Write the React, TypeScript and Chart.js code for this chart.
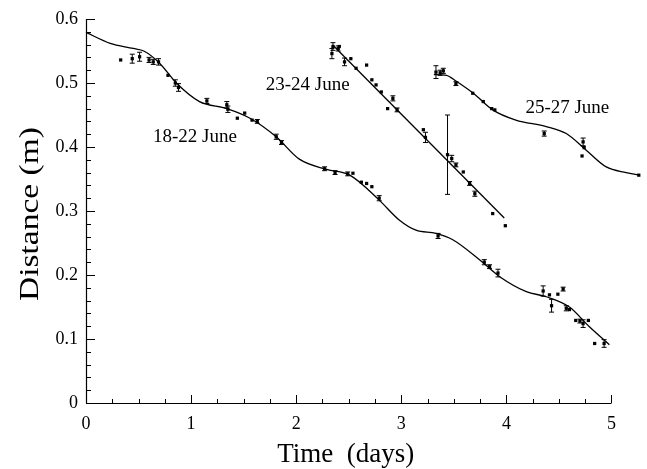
import { useEffect, useRef } from 'react';
import { Chart, registerables } from 'chart.js';

Chart.register(...registerables);

const FONT = '"Liberation Serif", "Times New Roman", serif';

// ---- 18-22 June: observations ----
const obs1X = [0.33, 0.44, 0.51, 0.60, 0.64, 0.69, 0.78, 0.85, 0.88, 1.15, 1.34, 1.35, 1.44, 1.51, 1.58, 1.63, 1.81, 1.86, 2.27, 2.37, 2.49, 2.54, 2.62, 2.67, 2.72, 2.79, 3.35, 3.79, 3.84, 3.92, 4.35, 4.41, 4.43, 4.49, 4.54, 4.57, 4.60, 4.66, 4.70, 4.73, 4.78, 4.84, 4.93];
const obs1Y = [0.536, 0.538, 0.541, 0.536, 0.533, 0.533, 0.512, 0.500, 0.493, 0.472, 0.466, 0.459, 0.445, 0.453, 0.442, 0.440, 0.416, 0.407, 0.366, 0.360, 0.358, 0.359, 0.345, 0.343, 0.338, 0.320, 0.261, 0.220, 0.213, 0.203, 0.175, 0.169, 0.152, 0.170, 0.178, 0.148, 0.146, 0.129, 0.128, 0.124, 0.129, 0.093, 0.093];
const obs1Err = [0, 0.007, 0.007, 0.004, 0.004, 0.005, 0, 0.005, 0.006, 0.004, 0.005, 0.005, 0, 0, 0, 0.003, 0.004, 0.003, 0.003, 0.003, 0.003, 0, 0, 0, 0, 0.004, 0.004, 0.004, 0.003, 0.006, 0.008, 0, 0.010, 0, 0.003, 0.004, 0, 0, 0.003, 0.006, 0, 0, 0.006];

// ---- 23-24 June: observations ----
const obs2X = [2.34, 2.35, 2.40, 2.41, 2.46, 2.52, 2.57, 2.67, 2.72, 2.76, 2.81, 2.87, 2.92, 2.96, 3.21, 3.23, 3.44, 3.48, 3.52, 3.59, 3.65, 3.70, 3.87, 3.99];
const obs2Y = [0.546, 0.557, 0.554, 0.557, 0.533, 0.538, 0.523, 0.528, 0.505, 0.497, 0.486, 0.460, 0.476, 0.458, 0.427, 0.415, 0.388, 0.382, 0.372, 0.361, 0.343, 0.327, 0.296, 0.277];
const obs2Err = [0.008, 0.006, 0.004, 0, 0.006, 0, 0, 0, 0, 0, 0, 0, 0.004, 0.003, 0, 0.008, 0.062, 0.005, 0.003, 0, 0.003, 0.004, 0, 0];

// ---- 25-27 June: observations ----
const obs3X = [3.33, 3.37, 3.40, 3.52, 3.68, 3.78, 3.86, 3.89, 4.36, 4.72, 4.73, 4.74, 5.26];
const obs3Y = [0.517, 0.516, 0.519, 0.499, 0.484, 0.471, 0.460, 0.458, 0.421, 0.386, 0.408, 0.399, 0.356];
const obs3Err = [0.010, 0.004, 0.004, 0.003, 0, 0, 0, 0, 0.004, 0, 0.006, 0, 0];

// ---- fitted curves ----
const fit1X = [0, 0.23, 0.45, 0.55, 0.70, 0.86, 1.08, 1.34, 1.56, 1.81, 2.03, 2.29, 2.51, 2.79, 2.98, 3.14, 3.33, 3.49, 3.75, 3.94, 4.19, 4.38, 4.60, 4.79, 4.98];
const fit1Y = [0.579, 0.562, 0.554, 0.550, 0.531, 0.500, 0.471, 0.460, 0.445, 0.416, 0.381, 0.365, 0.356, 0.317, 0.286, 0.270, 0.265, 0.255, 0.223, 0.197, 0.174, 0.166, 0.150, 0.119, 0.091];
const fit2X = [2.35, 3.98];
const fit2Y = [0.559, 0.289];
const fit3X = [3.31, 3.43, 3.52, 3.70, 3.87, 4.09, 4.38, 4.57, 4.76, 4.95, 5.14, 5.27];
const fit3Y = [0.513, 0.512, 0.503, 0.482, 0.458, 0.442, 0.432, 0.421, 0.395, 0.369, 0.360, 0.356];

// ---- series labels ----
const seriesNames = ['18-22 June', '23-24 June', '25-27 June'];
const seriesNameX = [1.036, 2.11, 4.58];
const seriesNameY = [0.416, 0.497, 0.461];

// ---- axes ----
const xTitle = 'Time  (days)';
const yTitle = 'Distance (m)';
const xMin = 0, xAxisEnd = 5, xViewMax = 5.3, xMinorStep = 0.25, xMajorStep = 1;
const yMin = 0, yMax = 0.6, yMinorStep = 0.02, yMajorStep = 0.1;

const isMultiple = (v: number, step: number) => {
  const r = Math.round(v / step);
  return Math.abs(v / step - r) < 1e-6;
};
const fmt = (v: number, step: number) => {
  if (!isMultiple(v, step)) return '';
  const r = Math.round(v / step) * step;
  return r === 0 ? '0' : String(Number(r.toFixed(2)));
};

const toPoints = (xs: number[], ys: number[]) => xs.map((x, i) => ({ x, y: ys[i] }));

const errorBars = {
  id: 'errorBars',
  afterDatasetsDraw(chart: any) {
    const c = chart.ctx;
    const ys = chart.scales.y;
    c.save();
    c.strokeStyle = '#000';
    c.lineWidth = 1;
    chart.data.datasets.forEach((ds: any, i: number) => {
      const errs: number[] | undefined = ds.errors;
      if (!errs) return;
      const meta = chart.getDatasetMeta(i);
      meta.data.forEach((el: any, j: number) => {
        const e = errs[j];
        if (!e) return;
        const v = ds.data[j].y;
        const x = el.x;
        const top = ys.getPixelForValue(v + e);
        const bot = ys.getPixelForValue(v - e);
        c.beginPath();
        c.moveTo(x, top);
        c.lineTo(x, bot);
        c.moveTo(x - 2.5, top);
        c.lineTo(x + 2.5, top);
        c.moveTo(x - 2.5, bot);
        c.lineTo(x + 2.5, bot);
        c.stroke();
      });
    });
    c.restore();
  },
};

const axesAndTicks = {
  id: 'axesAndTicks',
  afterDraw(chart: any) {
    const c = chart.ctx;
    const { left, bottom } = chart.chartArea;
    const xs = chart.scales.x;
    const ys = chart.scales.y;
    c.save();
    c.strokeStyle = '#000';
    c.lineWidth = 1.2;
    c.beginPath();
    c.moveTo(xs.getPixelForValue(xMin), bottom + 0.5);
    c.lineTo(xs.getPixelForValue(xAxisEnd), bottom + 0.5);
    c.moveTo(left + 0.5, ys.getPixelForValue(yMin));
    c.lineTo(left + 0.5, ys.getPixelForValue(yMax));
    c.stroke();
    c.lineWidth = 1;
    xs.ticks.forEach((t: any) => {
      if (t.value > xAxisEnd + 1e-9) return;
      const p = Math.round(xs.getPixelForValue(t.value)) + 0.5;
      const len = isMultiple(t.value, xMajorStep) ? 8 : 4;
      c.beginPath();
      c.moveTo(p, bottom);
      c.lineTo(p, bottom - len);
      c.stroke();
    });
    ys.ticks.forEach((t: any) => {
      const p = Math.round(ys.getPixelForValue(t.value)) + 0.5;
      const len = isMultiple(t.value, yMajorStep) ? 9 : 5;
      c.beginPath();
      c.moveTo(left, p);
      c.lineTo(left + len, p);
      c.stroke();
    });
    c.restore();
  },
};

const textLayer = {
  id: 'textLayer',
  afterDraw(chart: any) {
    const c = chart.ctx;
    const xs = chart.scales.x;
    const ys = chart.scales.y;
    c.save();
    c.fillStyle = '#000';
    c.textAlign = 'center';
    c.textBaseline = 'middle';
    c.font = `19px ${FONT}`;
    seriesNames.forEach((s, i) => {
      c.fillText(s, xs.getPixelForValue(seriesNameX[i]), ys.getPixelForValue(seriesNameY[i]));
    });
    // x-axis title
    c.font = `27px ${FONT}`;
    const xMid = (xs.getPixelForValue(xMin) + xs.getPixelForValue(xAxisEnd)) / 2 - 3;
    c.fillText(xTitle, xMid, xs.bottom - 14);
    // y-axis title, stretched along its length like the scanned original
    const w = c.measureText(yTitle).width;
    const yMid = (ys.getPixelForValue(yMin) + ys.getPixelForValue(yMax)) / 2 + 3;
    c.translate(ys.left + 31, yMid);
    c.rotate(-Math.PI / 2);
    c.scale(174 / w, 1);
    c.fillText(yTitle, 0, 0);
    c.restore();
  },
};

export default function App() {
  const ref = useRef<HTMLCanvasElement>(null);
  useEffect(() => {
    const canvas = ref.current;
    if (!canvas) return;
    const curve = (xs: number[], ys: number[]) => ({
      type: 'line',
      data: toPoints(xs, ys),
      borderColor: '#000',
      borderWidth: 1.3,
      pointRadius: 0,
      fill: false,
      showLine: true,
      cubicInterpolationMode: 'monotone',
      clip: false,
    });
    const obs = (xs: number[], ys: number[], es: number[]) => ({
      type: 'scatter',
      data: toPoints(xs, ys),
      errors: es,
      pointStyle: 'rect',
      pointRadius: 2.3,
      backgroundColor: '#000',
      borderColor: '#000',
      borderWidth: 0,
      clip: false,
    });
    const chart = new Chart(canvas, {
      type: 'scatter',
      data: {
        datasets: [
          curve(fit1X, fit1Y),
          curve(fit2X, fit2Y),
          curve(fit3X, fit3Y),
          obs(obs1X, obs1Y, obs1Err),
          obs(obs2X, obs2Y, obs2Err),
          obs(obs3X, obs3Y, obs3Err),
        ] as any,
      },
      options: {
        animation: false,
        responsive: false,
        layout: { padding: { top: 19, right: 3, left: 0, bottom: 0 } },
        plugins: { legend: { display: false }, tooltip: { enabled: false } },
        scales: {
          x: {
            type: 'linear',
            min: xMin,
            max: xViewMax,
            afterFit: (s: any) => { s.height = 66; s.paddingRight = 0; s.paddingLeft = 0; },
            grid: { display: false, drawTicks: false },
            border: { display: false },
            ticks: {
              stepSize: xMinorStep,
              autoSkip: false,
              maxRotation: 0,
              padding: 10,
              color: '#000',
              font: { family: FONT, size: 18 },
              callback: (v: any) => (Number(v) > xAxisEnd + 1e-9 ? '' : fmt(Number(v), xMajorStep)),
            },
          },
          y: {
            type: 'linear',
            min: yMin,
            max: yMax,
            afterFit: (s: any) => { s.width = 86; },
            grid: { display: false, drawTicks: false },
            border: { display: false },
            ticks: {
              stepSize: yMinorStep,
              autoSkip: false,
              padding: 8,
              color: '#000',
              font: { family: FONT, size: 18 },
              callback: (v: any) => fmt(Number(v), yMajorStep),
            },
          },
        },
      } as any,
      plugins: [errorBars, axesAndTicks, textLayer],
    });
    return () => chart.destroy();
  }, []);
  return (
    <div style={{ position: 'fixed', left: 0, top: 0, width: 647, height: 469, background: '#fff' }}>
      <canvas ref={ref} width={647} height={469} style={{ display: 'block' }} />
    </div>
  );
}
